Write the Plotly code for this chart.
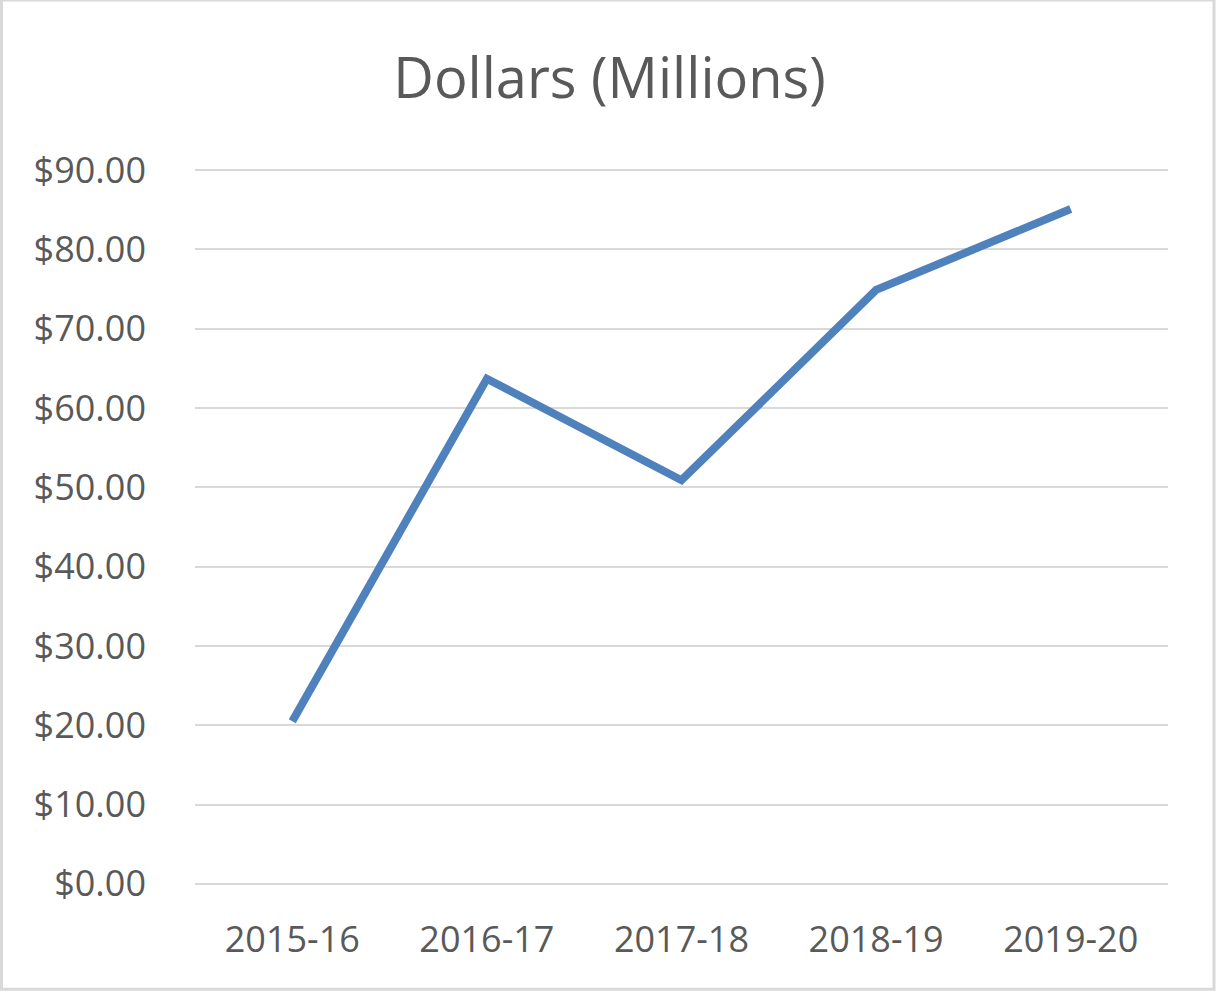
import plotly.graph_objects as go

years = ["2015-16", "2016-17", "2017-18", "2018-19", "2019-20"]
dollars = [20.5, 63.7, 50.9, 74.9, 85.1]
y_ticks = [0, 10, 20, 30, 40, 50, 60, 70, 80, 90]
y_tick_labels = ["$%.2f" % v for v in y_ticks]

W, H = 1219, 992
L, R, T, B = 195, 51, 170, 108
pw, ph = W - L - R, H - T - B
ypad = 0.15
yr = [0 - ypad, 90 + ypad]
pxu = ph / (yr[1] - yr[0])

fig = go.Figure(go.Scatter(
    x=years, y=dollars, mode="lines",
    line=dict(color="#4F81BD", width=8),
    hoverinfo="x+y",
))

font = "Open Sans, Noto Sans, sans-serif"
fig.update_layout(
    width=W, height=H,
    margin=dict(l=L, r=R, t=T - ypad * pxu, b=B - ypad * pxu),
    paper_bgcolor="white", plot_bgcolor="white",
    showlegend=False,
    title=dict(text="Dollars (Millions)", x=0.5, xanchor="center",
               y=1 - 78 / H, yanchor="middle",
               font=dict(family=font, size=56, color="#595959")),
    xaxis=dict(range=[-0.5, 4.5], showgrid=False, showline=False, ticks="",
               tickfont=dict(family=font, size=36, color="#595959"),
               ticklabelstandoff=30, zeroline=False),
    yaxis=dict(range=yr, tickvals=y_ticks, ticktext=y_tick_labels,
               showgrid=True, gridcolor="#D9D9D9", gridwidth=2,
               zeroline=False, showline=False, ticks="",
               tickfont=dict(family=font, size=36, color="#595959"),
               ticklabelstandoff=48),
    shapes=[dict(type="rect", xref="paper", yref="paper",
                 x0=(1.5 - L) / pw, x1=(1214 - L) / pw,
                 y0=(H - B - 988) / ph, y1=(H - B - 1.5) / ph,
                 line=dict(color="#D9D9D9", width=3), layer="below")],
)

fig.write_html(
    "out.html",
    config={"displayModeBar": False},
    post_script="document.body.style.margin='0px';document.body.style.overflow='hidden';",
)
